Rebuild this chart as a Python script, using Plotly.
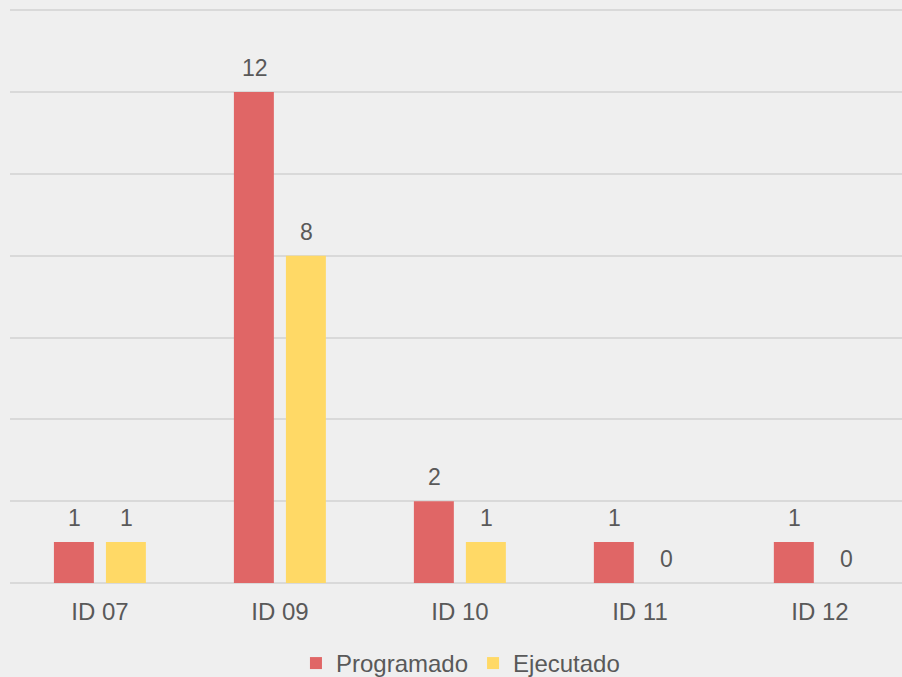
import plotly.graph_objects as go

categories = ["ID 07", "ID 09", "ID 10", "ID 11", "ID 12"]
programado = [1, 12, 2, 1, 1]
ejecutado = [1, 8, 1, 0, 0]

RED = "#E06666"
YELLOW = "#FFD966"
TEXT = "#595959"
BG = "#EFEFEF"
GRID = "#D9D9D9"
FONT = "Liberation Sans, Arial, sans-serif"

fig = go.Figure()

fig.add_trace(go.Bar(
    x=categories, y=programado, name="Programado",
    marker=dict(color=RED, line=dict(width=0)),
    width=0.222, offset=-0.256,
))
fig.add_trace(go.Bar(
    x=categories, y=ejecutado, name="Ejecutado",
    marker=dict(color=YELLOW, line=dict(width=0)),
    width=0.222, offset=0.033,
))

# data labels above each bar
for vals, shift in ((programado, -25), (ejecutado, 27)):
    for cat, v in zip(categories, vals):
        fig.add_annotation(
            x=cat, y=v, text=str(v), showarrow=False,
            xshift=shift, yshift=9, yanchor="bottom",
            font=dict(size=23, color=TEXT, family=FONT),
        )

fig.update_layout(
    width=902, height=677,
    paper_bgcolor=BG, plot_bgcolor=BG,
    margin=dict(l=10, r=0, t=9, b=94, autoexpand=False),
    font=dict(family=FONT, color=TEXT, size=24),
    showlegend=True,
    legend=dict(
        orientation="h", x=0.505, xanchor="center",
        y=-0.101, yanchor="top",
        font=dict(size=24, color=TEXT), itemwidth=30,
        bgcolor="rgba(0,0,0,0)",
    ),
)
fig.update_xaxes(
    range=[-0.5, 4.456], showgrid=False, showline=False, zeroline=False,
    ticks="", tickfont=dict(size=24, color=TEXT), ticklabelstandoff=12,
    automargin=False,
)
fig.update_yaxes(
    range=[0, 14.03], tickvals=[0, 2, 4, 6, 8, 10, 12, 14], showticklabels=False,
    showgrid=True, gridcolor=GRID, gridwidth=2, zeroline=True,
    zerolinecolor=GRID, zerolinewidth=2, showline=False, automargin=False,
)

fig.write_html(
    "out.html",
    config={"displayModeBar": False},
    post_script="document.body.style.margin='0';document.body.style.background='#EFEFEF';",
)
